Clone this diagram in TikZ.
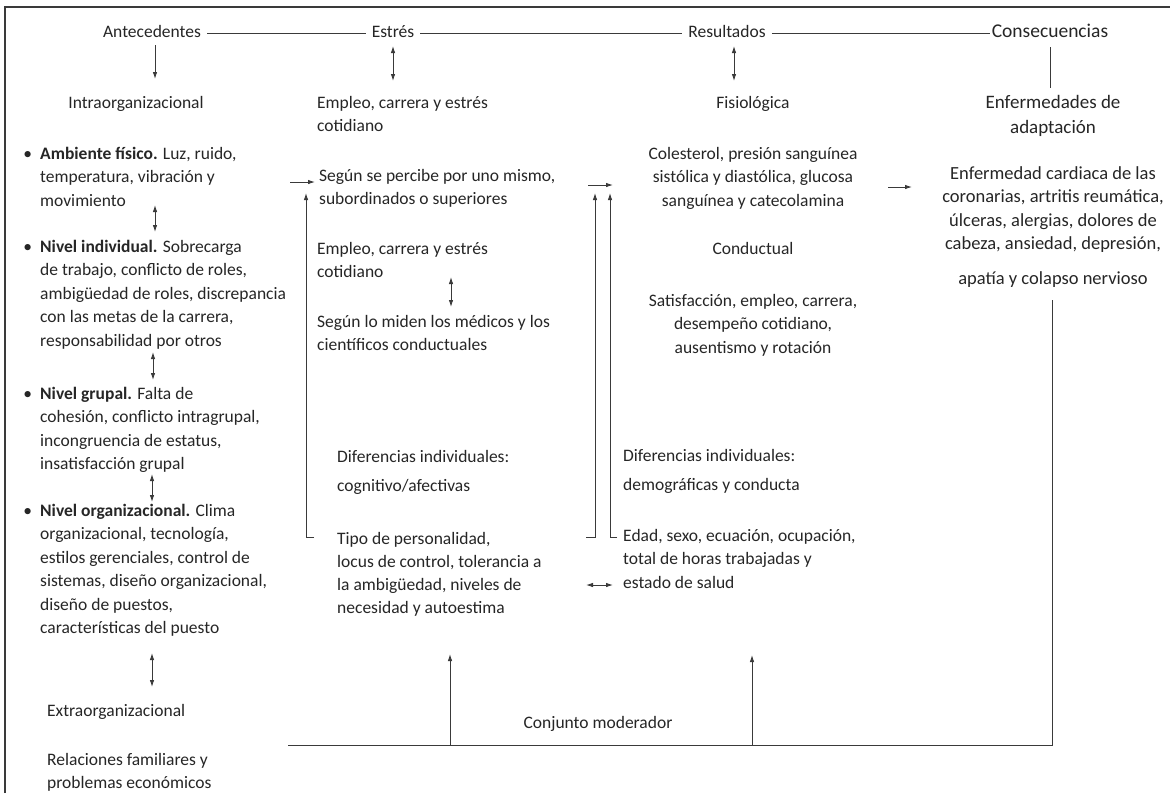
\documentclass[tikz,border=0pt]{standalone}
\usepackage{fontspec}
\setmainfont{Carlito}
\usetikzlibrary{arrows.meta}
\definecolor{ink}{HTML}{262626}
\definecolor{rule}{HTML}{3A3A3A}
\newcommand\fl{\rule{0pt}{15pt}}
\newcommand\flb{\rule{0pt}{16pt}}
\begin{document}
\begin{tikzpicture}[x=1pt,y=-1pt,
  body/.style={inner sep=0pt, text=ink, font=\fontsize{17.5}{23.5}\selectfont},
  big/.style={inner sep=0pt, text=ink, font=\fontsize{19}{25}\selectfont},
  cons/.style={inner sep=0pt, text=ink, font=\fontsize{18.5}{23.5}\selectfont},
  lblock/.style={body, anchor=north west, align=left},
  cblock/.style={body, anchor=north, align=center},
  head/.style={body, anchor=base, inner xsep=6pt},
  wire/.style={draw=rule, line width=0.9pt},
  arr/.style={wire, -{Latex[length=7pt,width=4.5pt]}},
  darr/.style={wire, {Latex[length=7pt,width=4.5pt]}-{Latex[length=7pt,width=4.5pt]}}]
\useasboundingbox (0,0) rectangle (1170,793);
\fill[white] (0,0) rectangle (1170,793);
% frame
\draw[draw=rule, line width=1.6pt] (5,793) -- (5,7) -- (1170,7);

% header row
\node[head] (ante) at (152,37) {Antecedentes};
\node[head] (estr) at (393,37) {Estrés};
\node[head] (resu) at (727,37) {Resultados};
\node[head, font=\fontsize{19.5}{24}\selectfont, inner xsep=2pt] (cons) at (1050,37) {Consecuencias};
\draw[wire] (ante.east |- 0,33) -- (estr.west |- 0,33);
\draw[wire] (estr.east |- 0,33) -- (resu.west |- 0,33);
\draw[wire] (resu.east |- 0,33) -- (cons.west |- 0,33);

% column titles
\node[body, anchor=base] (intra) at (136,108) {Intraorganizacional};
\node[lblock] (emp1) at (317,93) {\fl Empleo, carrera y estrés\\cotidiano};
\node[body, anchor=base] (fisio) at (753,108) {Fisiológica};
\node[big, anchor=north, align=center] (enf) at (1053,92) {\flb Enfermedades de\\adaptación};

\coordinate (a0) at (155,45);  \coordinate (a1) at (155,79);
\coordinate (e0) at (393,46);  \coordinate (e1) at (393,81);
\coordinate (r0) at (734,46);  \coordinate (r1) at (734,81);
\coordinate (c0) at (1050,47); \coordinate (c1) at (1050,88);
\draw[arr] (a0) -- (a1);
\draw[darr] (e0) -- (e1);
\draw[darr] (r0) -- (r1);
\draw[wire] (c0) -- (c1);

% antecedents: intra-organizational levels
\node[lblock] (amb) at (40,144) {\fl\llap{\textbullet\hspace{8pt}}\textbf{Ambiente físico.} Luz, ruido,\\temperatura, vibración y\\movimiento};
\node[lblock] (ind) at (40,237) {\fl\llap{\textbullet\hspace{8pt}}\textbf{Nivel individual.} Sobrecarga\\de trabajo, conflicto de roles,\\ambigüedad de roles, discrepancia\\con las metas de la carrera,\\responsabilidad por otros};
\node[lblock] (grp) at (40,384) {\fl\llap{\textbullet\hspace{8pt}}\textbf{Nivel grupal.} Falta de\\cohesión, conflicto intragrupal,\\incongruencia de estatus,\\insatisfacción grupal};
\node[lblock] (org) at (40,501) {\fl\llap{\textbullet\hspace{8pt}}\textbf{Nivel organizacional.} Clima\\organizacional, tecnología,\\estilos gerenciales, control de\\sistemas, diseño organizacional,\\diseño de puestos,\\características del puesto};
\node[body, anchor=base west] (extra) at (47,716) {Extraorganizacional};
\node[lblock] (fam) at (47,750) {\fl Relaciones familiares y\\problemas económicos};

\coordinate (l1a) at (155,205); \coordinate (l1b) at (155,232);
\coordinate (l2a) at (153,352); \coordinate (l2b) at (153,380);
\coordinate (l3a) at (152,474); \coordinate (l3b) at (152,502);
\coordinate (l4a) at (152,653); \coordinate (l4b) at (152,687);
\draw[darr] (l1a) -- (l1b);
\draw[darr] (l2a) -- (l2b);
\draw[darr] (l3a) -- (l3b);
\draw[darr] (l4a) -- (l4b);

% stress column
\node[lblock] (perc) at (319,166) {\fl Según se percibe por uno mismo,\\subordinados o superiores};
\node[lblock] (emp2) at (317,239) {\fl Empleo, carrera y estrés\\cotidiano};
\node[lblock] (med) at (317,312) {\fl Según lo miden los médicos y los\\científicos conductuales};
\coordinate (m0) at (451,277); \coordinate (m1) at (451,307);
\draw[darr] (m0) -- (m1);

\node[lblock] (difc) at (337,447) {\fl Diferencias individuales:\\[6pt]cognitivo/afectivas};
\node[lblock, font=\fontsize{17.5}{23}\selectfont] (pers) at (337,529) {\fl Tipo de personalidad,\\locus de control, tolerancia a\\la ambigüedad, niveles de\\necesidad y autoestima};

% outcomes column
\node[cblock] (fis) at (753,144) {\fl Colesterol, presión sanguínea\\sistólica y diastólica, glucosa\\sanguínea y catecolamina};
\node[body, anchor=base] (cond) at (753,254) {Conductual};
\node[cblock] (sat) at (753,291) {\fl Satisfacción, empleo, carrera,\\desempeño cotidiano,\\ausentismo y rotación};

\node[lblock] (difd) at (623,446) {\fl Diferencias individuales:\\[6pt]demográficas y conducta};
\node[lblock] (dem) at (623,526) {\fl Edad, sexo, ecuación, ocupación,\\total de horas trabajadas y\\estado de salud};

% consequences column
\node[cons, anchor=north, align=center] (dis) at (1053,163) {\flb Enfermedad cardiaca de las\\coronarias, artritis reumática,\\úlceras, alergias, dolores de\\cabeza, ansiedad, depresión,};
\node[cons, anchor=base] (apat) at (1053,284) {apatía y colapso nervioso};

% arrows into each stage
\coordinate (p0) at (290,182);  \coordinate (p1) at (315,182);
\coordinate (q0) at (588,185);  \coordinate (q1) at (613,185);
\coordinate (s0) at (888,187);  \coordinate (s1) at (912,187);
\draw[arr] (p0) -- (p1);
\draw[arr] (q0) -- (q1);
\draw[arr] (s0) -- (s1);

% moderator brackets
\coordinate (bl0) at (314,537); \coordinate (bl1) at (306,537); \coordinate (bl2) at (306,193);
\coordinate (br0) at (586,537); \coordinate (br1) at (595,537); \coordinate (br2) at (595,193);
\coordinate (bd0) at (617,537); \coordinate (bd1) at (610,537); \coordinate (bd2) at (610,193);
\draw[arr] (bl0) -- (bl1) -- (bl2);
\draw[arr] (br0) -- (br1) -- (br2);
\draw[arr] (bd0) -- (bd1) -- (bd2);
\coordinate (h0) at (586,585); \coordinate (h1) at (613,585);
\draw[darr] (h0) -- (h1);

% moderator baseline
\node[body, anchor=base] (mod) at (598,728) {Conjunto moderador};
\coordinate (g0) at (288,745); \coordinate (g1) at (1052,745); \coordinate (g2) at (1052,300);
\draw[wire] (g0) -- (g1) -- (g2);
\coordinate (u0) at (450,745); \coordinate (u1) at (450,654);
\coordinate (v0) at (752,745); \coordinate (v1) at (752,655);
\draw[arr] (u0) -- (u1);
\draw[arr] (v0) -- (v1);
\end{tikzpicture}
\end{document}
